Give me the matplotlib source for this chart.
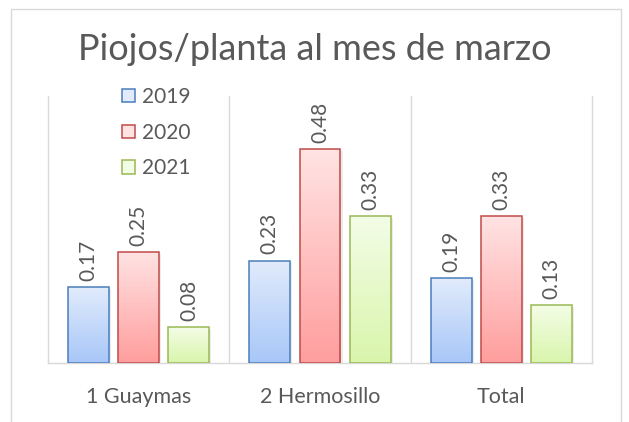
import matplotlib

matplotlib.use("Agg")
import matplotlib.pyplot as plt
import numpy as np
from matplotlib.colors import LinearSegmentedColormap
from matplotlib.patches import Rectangle

plt.rcParams["font.family"] = ["Lato", "DejaVu Sans"]

# ---- data ------------------------------------------------------------------
categories = ["1 Guaymas", "2 Hermosillo", "Total"]
years = ["2019", "2020", "2021"]
v2019 = [0.17, 0.23, 0.19]
v2020 = [0.25, 0.48, 0.33]
v2021 = [0.08, 0.33, 0.13]
series = [v2019, v2020, v2021]

# (top colour, bottom colour, edge colour)
styles = [
    ("#e1ebfc", "#a8c7f8", "#4a7ebb"),
    ("#ffe3e3", "#ff9e9e", "#be4b48"),
    ("#f3fde6", "#d9f5ac", "#98b954"),
]
TEXT = "#595959"
GRID = "#d9d9d9"

fig = plt.figure(figsize=(6.29, 4.22), dpi=100)
ax = fig.add_axes([48 / 629, 59 / 422, 544 / 629, 267 / 422])

width = 0.225
offset = 0.277
x = np.arange(len(categories))

for i, (vals, (top, bot, edge)) in enumerate(zip(series, styles)):
    cmap = LinearSegmentedColormap.from_list(f"g{i}", [bot, top])
    grad = np.linspace(0, 1, 64).reshape(-1, 1)
    xs = x + (i - 1) * offset
    # soft shadow
    ax.bar(xs + 0.012, vals, width, bottom=-0.004, color="#000000", alpha=0.08,
           zorder=1, linewidth=0)
    bars = ax.bar(xs, vals, width, facecolor="none", edgecolor=edge,
                  linewidth=1.1, zorder=3, label=years[i])
    for b, v in zip(bars, vals):
        x0 = b.get_x()
        im = ax.imshow(grad, cmap=cmap, origin="lower", aspect="auto",
                       extent=(x0, x0 + width, 0, v), zorder=2)
        im.set_clip_path(b)
        ax.text(x0 + width / 2, v + 0.014, f"{v:.2f}", rotation=90,
                ha="center", va="bottom", color=TEXT, fontsize=15)

ax.set_xlim(-0.5, 2.5)
ax.set_ylim(0, 0.6)
ax.set_yticks([])
ax.set_xticks(x)
ax.set_xticklabels(categories, color=TEXT, fontsize=15.5)
ax.tick_params(axis="x", length=0, pad=17)
for xb in [0.5, 1.5]:
    ax.axvline(xb, color=GRID, linewidth=1, zorder=0)
ax.spines["top"].set_visible(False)
for s in ["left", "right", "bottom"]:
    ax.spines[s].set_color(GRID)
    ax.spines[s].set_linewidth(1)

# legend with plain swatches
handles = [Rectangle((0, 0), 1, 1, facecolor=t, edgecolor=e, linewidth=1.1)
           for t, _, e in styles]
leg = ax.legend(handles, years, loc="upper left", bbox_to_anchor=(0.102, 1.105),
                frameon=False, fontsize=15, labelcolor=TEXT, handlelength=0.6,
                handleheight=0.6, handletextpad=0.35, labelspacing=0.76)

fig.text(0.5, 1 - 49 / 422, "Piojos/planta al mes de marzo", ha="center",
         va="center", color=TEXT, fontsize=26)

fig.patches.append(Rectangle((11 / 629, -0.01), 610 / 629, 1.01 - 9 / 422,
                             transform=fig.transFigure, fill=False,
                             edgecolor=GRID, linewidth=1))

fig.savefig("out.png", dpi=100)
